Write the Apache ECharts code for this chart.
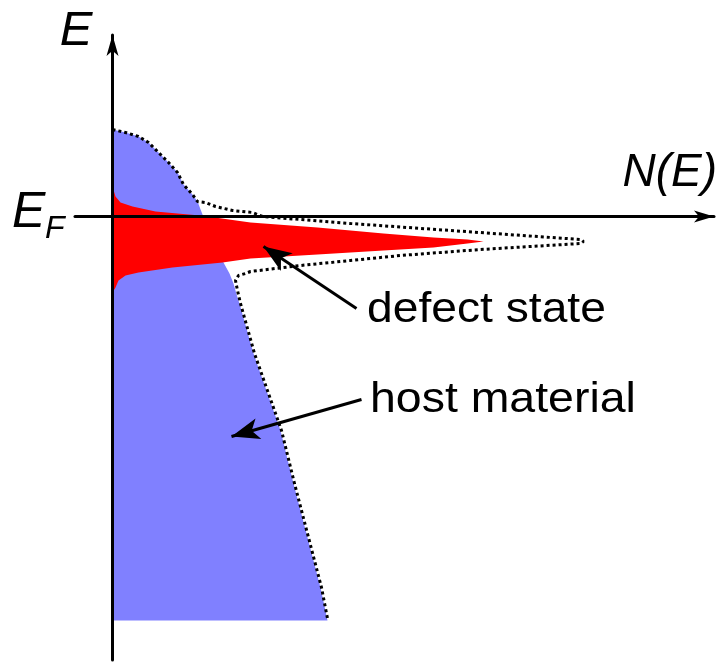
<!DOCTYPE html>
<html>
<head>
<meta charset="utf-8">
<script src="https://cdn.jsdelivr.net/npm/echarts@6/dist/echarts.min.js"></script>
<style>
  html, body { margin: 0; padding: 0; background: #ffffff; }
  #chart { width: 725px; height: 662px; }
</style>
</head>
<body>
<div id="chart"></div>
<script>
// Energy E (relative to E_F) and density of states N(E), arbitrary units

// host material (blue band)
const hostE = [0.87, 0.84, 0.80, 0.74, 0.64, 0.54, 0.44, 0.32, 0.22, 0.15, 0.02, -0.24, -0.46, -0.57, -0.67, -0.81, -0.87, -1.37, -1.77, -2.14, -2.67, -3.21, -3.71, -4.04];
const hostN = [0.00, 0.13, 0.26, 0.36, 0.46, 0.56, 0.65, 0.71, 0.80, 0.85, 0.90, 1.01, 1.11, 1.17, 1.21, 1.25, 1.27, 1.41, 1.55, 1.68, 1.81, 1.95, 2.08, 2.15];

// defect state (red peak)
const defectE = [0.30, 0.20, 0.14, 0.10, 0.05, 0.02, 0.01, -0.06, -0.11, -0.17, -0.21, -0.23, -0.25, -0.27, -0.31, -0.34, -0.38, -0.42, -0.46, -0.51, -0.56, -0.59, -0.64, -0.71, -0.76];
const defectN = [0.00, 0.03, 0.08, 0.20, 0.43, 0.76, 0.88, 1.38, 2.05, 2.71, 3.21, 3.55, 3.71, 3.55, 3.21, 2.71, 2.05, 1.38, 1.10, 0.60, 0.26, 0.13, 0.06, 0.03, 0.00];

// total density of states (dotted outline)
const totalE = [0.87, 0.84, 0.80, 0.74, 0.64, 0.54, 0.44, 0.32, 0.22, 0.15, 0.14, 0.10, 0.06, 0.04, 0.00, -0.07, -0.14, -0.23, -0.25, -0.27, -0.33, -0.39, -0.44, -0.49, -0.55, -0.57, -0.59, -0.64, -0.74, -0.87, -1.37, -1.77, -2.14, -2.67, -3.21, -3.71, -4.02];
const totalN = [0.00, 0.13, 0.26, 0.36, 0.46, 0.56, 0.65, 0.71, 0.80, 0.85, 0.93, 1.03, 1.20, 1.40, 1.50, 2.38, 3.38, 4.68, 4.71, 4.68, 3.68, 2.88, 2.38, 1.88, 1.38, 1.33, 1.26, 1.23, 1.25, 1.28, 1.42, 1.56, 1.69, 1.82, 1.96, 2.09, 2.15];

// annotation labels and their arrows (start and tip, in data units [N, E])
const annotationLabels = ['defect state', 'host material'];
const arrowFrom = [[2.44, -0.92], [2.49, -1.83]];
const arrowTo = [[1.51, -0.30], [1.19, -2.20]];

const axisTitleX = 'N(E)';
const axisTitleY = 'E';

const FONT = '"Liberation Sans", Arial, sans-serif';

function polygonSeries(name, Es, Ns, color, z) {
  return {
    type: 'custom',
    name: name,
    coordinateSystem: 'cartesian2d',
    z: z,
    silent: true,
    data: Ns.map((n, i) => [n, Es[i]]),
    encode: { x: 0, y: 1 },
    renderItem: function (params, api) {
      if (params.dataIndex !== 0) return null;
      const pts = [api.coord([0, Es[0]])];
      for (let i = 0; i < Ns.length; i++) pts.push(api.coord([Ns[i], Es[i]]));
      pts.push(api.coord([0, Es[Es.length - 1]]));
      return { type: 'polygon', shape: { points: pts }, style: { fill: color } };
    }
  };
}

const chart = echarts.init(document.getElementById('chart'), null, { renderer: 'canvas' });

chart.setOption({
  animation: false,
  backgroundColor: '#ffffff',
  tooltip: { show: false },
  grid: { left: 75, right: 11, top: 35, bottom: 2, containLabel: false, outerBoundsMode: 'none' },
  xAxis: {
    type: 'value',
    min: -0.375,
    max: 6.015,
    z: 10,
    axisLine: { onZero: true, symbol: ['none', 'arrow'], symbolSize: [9, 20], lineStyle: { color: '#000', width: 3 } },
    axisTick: { show: false },
    axisLabel: { show: false },
    splitLine: { show: false },
    name: axisTitleX,
    nameLocation: 'end',
    nameGap: 3,
    nameTextStyle: {
      fontFamily: FONT, fontStyle: 'italic', fontSize: 46, lineHeight: 46, color: '#000',
      align: 'right', verticalAlign: 'bottom', padding: [0, 0, 20, 0]
    }
  },
  yAxis: {
    type: 'value',
    min: -4.435,
    max: 1.815,
    z: 10,
    axisLine: { onZero: true, symbol: ['none', 'arrow'], symbolSize: [9, 21], lineStyle: { color: '#000', width: 3 } },
    axisTick: { show: false },
    axisLabel: { show: false },
    splitLine: { show: false },
    name: axisTitleY,
    nameLocation: 'end',
    nameGap: 4,
    nameTextStyle: {
      fontFamily: FONT, fontStyle: 'italic', fontSize: 49, lineHeight: 49, color: '#000',
      align: 'right', verticalAlign: 'middle', padding: [0, 20, 0, 0]
    }
  },
  series: [
    polygonSeries('host material', hostE, hostN, '#8080ff', 1),
    polygonSeries('defect state', defectE, defectN, '#ff0000', 2),
    {
      type: 'line',
      name: 'total',
      z: 3,
      silent: true,
      symbol: 'none',
      showSymbol: false,
      data: totalN.map((n, i) => [n, totalE[i]]),
      lineStyle: { color: '#000', width: 3, type: [3, 3] }
    },
    {
      type: 'line',
      name: 'annotations',
      z: 4,
      silent: true,
      symbol: 'none',
      data: [],
      markLine: {
        silent: true,
        animation: false,
        symbol: ['none', 'arrow'],
        symbolSize: [16, 28],
        label: { show: false },
        lineStyle: { color: '#000', width: 3, type: 'solid' },
        emphasis: { disabled: true },
        data: arrowFrom.map((p, i) => [{ coord: p }, { coord: arrowTo[i] }])
      }
    }
  ],
  graphic: [
    { type: 'text', x: 12, y: 213, silent: true,
      style: { text: 'E', font: 'italic 50px ' + FONT, fill: '#000', align: 'left', verticalAlign: 'middle' } },
    { type: 'text', x: 45, y: 229, silent: true,
      style: { text: 'F', font: 'italic 32px ' + FONT, fill: '#000', align: 'left', verticalAlign: 'middle' } },
    { type: 'text', x: 367, y: 310, scaleX: 1.1, silent: true,
      style: { text: annotationLabels[0], font: '42px ' + FONT, fill: '#000', align: 'left', verticalAlign: 'middle' } },
    { type: 'text', x: 370, y: 400, scaleX: 1.08, silent: true,
      style: { text: annotationLabels[1], font: '43px ' + FONT, fill: '#000', align: 'left', verticalAlign: 'middle' } }
  ]
});
</script>
</body>
</html>
